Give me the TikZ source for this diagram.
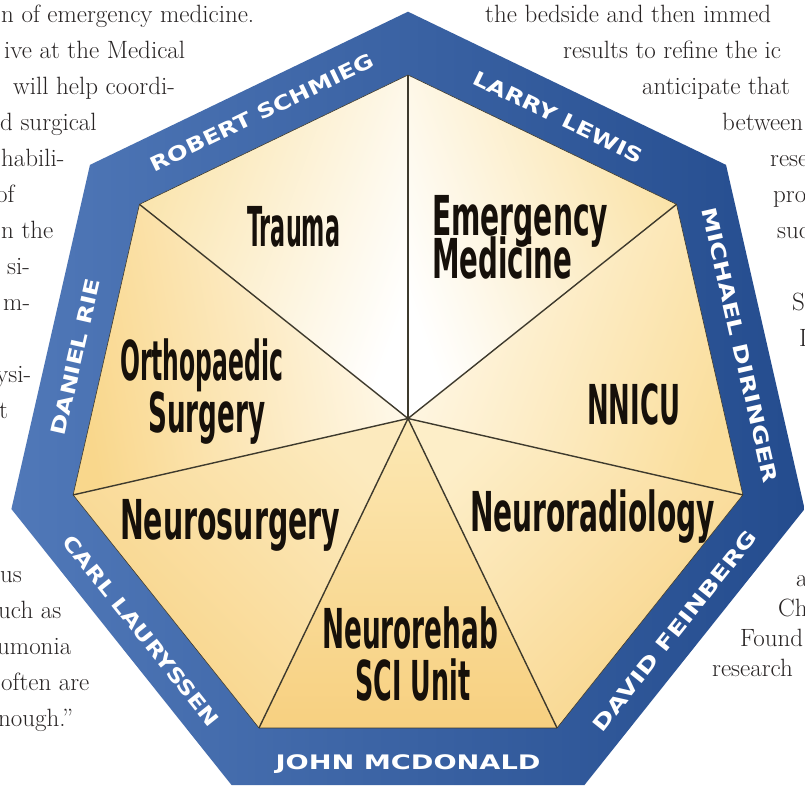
\documentclass[tikz,border=0pt]{standalone}
\usepackage{fontspec}
\usepackage{graphicx}
\usetikzlibrary{calc}
\newfontfamily\labfont{DejaVu Sans}
\newfontfamily\namefont{DejaVu Sans}
\definecolor{bandL}{RGB}{80,120,184}
\definecolor{bandR}{RGB}{36,76,142}
\definecolor{raycol}{RGB}{62,58,45}
\definecolor{labc}{RGB}{22,16,10}
\definecolor{txtc}{RGB}{40,36,36}
\definecolor{trauD}{RGB}{250,228,172}
\definecolor{emerD}{RGB}{250,226,166}
\definecolor{nnicuL}{RGB}{255,248,232}
\definecolor{nnicuD}{RGB}{250,222,156}
\definecolor{nradL}{RGB}{253,238,200}
\definecolor{nradD}{RGB}{248,212,136}
\definecolor{nrehL}{RGB}{252,232,180}
\definecolor{nrehD}{RGB}{247,208,128}
\definecolor{nsurL}{RGB}{252,234,190}
\definecolor{nsurD}{RGB}{248,211,134}
\definecolor{ortL}{RGB}{255,250,238}
\definecolor{ortD}{RGB}{249,215,140}
\begin{document}
\begin{tikzpicture}[x=1pt,y=-1pt,
  lab/.style={inner sep=0pt, anchor=base west, text=labc, font=\labfont\bfseries\fontsize{55}{60}\selectfont},
  nm/.style={inner sep=0pt, text=white, font=\namefont\bfseries\fontsize{20}{24}\selectfont},
  bgtext/.style={inner sep=0pt, anchor=base west, text=txtc, font=\fontsize{25}{30}\selectfont},
  rayline/.style={draw=raycol, line width=1.4pt}]
\useasboundingbox (0,0) rectangle (805,786);
\clip (0,0) rectangle (805,786);
\fill[white] (0,0) rectangle (805,786);
\coordinate (C) at (408,418.5);
\foreach \k in {0,...,6}{
  \path (C) ++({51.4286*\k-90}:343.5) coordinate (I\k);
  \path (C) ++({51.4286*\k-90}:406.8) coordinate (O\k);
}
% band
\shade[left color=bandL, right color=bandR] (O0)--(O1)--(O2)--(O3)--(O4)--(O5)--(O6)--cycle;
% sectors
\shade[top color=white, bottom color=emerD, shading angle=110] (C)--(I0)--(I1)--cycle;
\shade[top color=nnicuL, bottom color=nnicuD, shading angle=70] (C)--(I1)--(I2)--cycle;
\shade[top color=nradL, bottom color=nradD, shading angle=45] (C)--(I2)--(I3)--cycle;
\shade[top color=nrehL, bottom color=nrehD, shading angle=0] (C)--(I3)--(I4)--cycle;
\shade[top color=nsurL, bottom color=nsurD, shading angle=-45] (C)--(I4)--(I5)--cycle;
\shade[top color=ortL, bottom color=ortD, shading angle=-80] (C)--(I5)--(I6)--cycle;
\shade[top color=white, bottom color=trauD, shading angle=-110] (C)--(I6)--(I0)--cycle;
\draw[raycol, line width=0.6pt] (I0)--(I1)--(I2)--(I3)--(I4)--(I5)--(I6)--cycle;
\foreach \k in {0,...,6}{ \draw[rayline] (C) -- (I\k); }
\fill[raycol] (C) circle (1.6);
% sector labels
\node[lab] (trauma) at (247,247) {\resizebox{93pt}{\height}{Trauma}};
\node[lab] (emerg1) at (432,236) {\resizebox{176pt}{\height}{Emergency}};
\node[lab] (emerg2) at (432,278) {\resizebox{140pt}{\height}{Medicine}};
\node[lab] (nnicu) at (587,424) {\resizebox{93pt}{\height}{NNICU}};
\node[lab] (ortho1) at (120,380) {\resizebox{163pt}{\height}{Orthopaedic}};
\node[lab] (ortho2) at (148,432) {\resizebox{117pt}{\height}{Surgery}};
\node[lab] (nsurg) at (120,539) {\resizebox{220pt}{\height}{Neurosurgery}};
\node[lab] (nrad) at (470,531) {\resizebox{245pt}{\height}{Neuroradiology}};
\node[lab] (nreh1) at (322,648) {\resizebox{176pt}{\height}{Neurorehab}};
\node[lab] (nreh2) at (355,700) {\resizebox{115pt}{\height}{SCI Unit}};
% names on band
\node[nm, rotate=25.71] (robert) at ($(C)+(-115.5:339)$) {\resizebox{245pt}{\height}{ROBERT SCHMIEG}};
\node[nm, rotate=-25.71] (larry) at ($(C)+(-63.5:337)$) {\resizebox{186pt}{\height}{LARRY LEWIS}};
\node[nm, rotate=-77.14] (michael) at ($(C)+(-12.5:340)$) {\resizebox{282pt}{\height}{MICHAEL DIRINGER}};
\node[nm, rotate=51.43] (david) at ($(C)+(38.57:341)$) {\resizebox{250pt}{\height}{DAVID FEINBERG}};
\node[nm] (john) at ($(C)+(90:346)$) {\resizebox{265pt}{\height}{JOHN MCDONALD}};
\node[nm, rotate=-51.43] (carl) at ($(C)+(141.43:341)$) {\resizebox{237pt}{\height}{CARL LAURYSSEN}};
\node[nm, rotate=77.14] (daniel) at ($(C)+(-169.5:338)$) {\resizebox{160pt}{\height}{DANIEL RIE}};
% background page text, left column
\node[bgtext] (l1) at (1,22.5) {n of emergency medicine.};
\node[bgtext] (l2) at (4,58.5) {ive at the Medical};
\node[bgtext] (l3) at (13,94.5) {will help coordi-};
\node[bgtext] (l4) at (0,130.5) {d surgical};
\node[bgtext] (l5) at (1,166.5) {habili-};
\node[bgtext] (l6) at (-4,202.5) {of};
\node[bgtext] (l7) at (1,238.5) {n the};
\node[bgtext] (l8) at (7,274.5) {si-};
\node[bgtext] (l9) at (3,310.5) {m-};
\node[bgtext] (l10) at (-4,382.5) {ysi-};
\node[bgtext] (l11) at (-1,418.5) {t};
\node[bgtext] (l12) at (0,582.5) {us};
\node[bgtext] (l13) at (-2,618.5) {uch as};
\node[bgtext] (l14) at (-3,654.5) {umonia};
\node[bgtext] (l15) at (1,690.5) {often are};
\node[bgtext] (l16) at (-2,726.5) {nough.”};
% background page text, right column
\node[bgtext] (r1) at (485,22.5) {the bedside and then immed};
\node[bgtext] (r2) at (563,58.5) {results to refine the ic};
\node[bgtext] (r3) at (642,94.5) {anticipate that};
\node[bgtext] (r4) at (722,130.5) {between};
\node[bgtext] (r5) at (770,166.5) {resea};
\node[bgtext] (r6) at (773,202.5) {pro};
\node[bgtext] (r7) at (777,238.5) {suc};
\node[bgtext] (r8) at (792,310.5) {S};
\node[bgtext] (r9) at (799,346.5) {I};
\node[bgtext] (r10) at (796,586) {a};
\node[bgtext] (r11) at (778,616) {Ch};
\node[bgtext] (r12) at (740,646) {Found};
\node[bgtext] (r13) at (712,676) {research};
\end{tikzpicture}
\end{document}
